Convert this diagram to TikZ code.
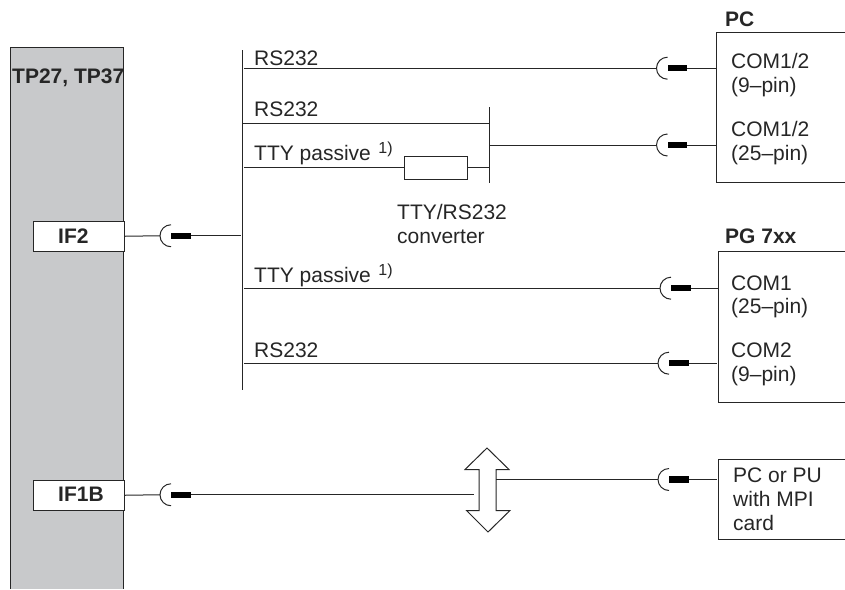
\documentclass[tikz,border=0pt]{standalone}
\usepackage{fontspec}
\setmainfont{Liberation Sans}
\definecolor{ink}{HTML}{262626}
\definecolor{panel}{HTML}{C8C9CB}
\tikzset{
  lbl/.style={anchor=base west,inner sep=0pt,text=ink,font=\fontsize{21}{24}\selectfont},
  blbl/.style={lbl,font=\fontsize{21}{24}\selectfont\bfseries},
  bx/.style={draw=ink,line width=1pt,fill=white,inner sep=0pt,minimum width=91pt,minimum height=30.5pt,anchor=north west},
  plug/.style={fill=black,draw=none,inner sep=0pt,minimum width=19.5pt,minimum height=6.5pt,anchor=west},
  wire/.style={draw=ink,line width=1pt}
}
% name, x of arc left edge, y
\newcommand{\plugat}[3]{%
  \coordinate (#1-l) at (#2,#3);
  \node[plug] (#1) at (#2+11,#3) {};
  \draw[wire] (#2+11,#3-11) arc[start angle=90,end angle=270,radius=11pt];
}
\newcommand{\supone}{\hspace{7.5pt}\raisebox{6.5pt}{\fontsize{16}{18}\selectfont 1)}}
\begin{document}
\begin{tikzpicture}[x=1pt,y=-1pt]
\useasboundingbox (0,0) rectangle (845,589);
% panel
\fill[panel] (10.5,47) rectangle (123,589);
\draw[wire] (10.5,589) -- (10.5,47) -- (123,47) -- (123,589);
\node[blbl] (tp) at (12,83) {TP27, TP37};
% interface boxes
\node[bx] (if2) at (33,220.5) {};
\node[blbl] (if2t) at (58,243) {IF2};
\node[bx] (if1b) at (33,479.5) {};
\node[blbl] (if1bt) at (58,501.7) {IF1B};
% bus
\coordinate (bustop) at (242,50);
\coordinate (busbot) at (242,390);
\draw[wire] (bustop) -- (busbot);
\coordinate (bus-if) at (241,235.75);
% plugs
\plugat{p0}{160}{235.75}
\plugat{p1}{656.5}{68.2}
\plugat{p2}{656.5}{145}
\plugat{p3}{660}{288.2}
\plugat{p4}{658}{363.2}
\plugat{p5}{160}{494.75}
\plugat{p6}{658}{479.5}
% device boxes (open on the right)
\coordinate (pc-nw) at (716.7,32); \coordinate (pc-sw) at (716.7,182.5);
\draw[wire] (845,32) -- (pc-nw) -- (pc-sw) -- (845,182.5);
\coordinate (pg-nw) at (718,251); \coordinate (pg-sw) at (718,402);
\draw[wire] (845,251) -- (pg-nw) -- (pg-sw) -- (845,402);
\coordinate (mpi-nw) at (718,459); \coordinate (mpi-sw) at (718,539);
\draw[wire] (845,459) -- (mpi-nw) -- (mpi-sw) -- (845,539);
% IF2 link
\draw[wire] (if2.east) -- (p0-l);
\draw[wire] (p0.east) -- (bus-if);
% branches
\coordinate (b1) at (244,68.2);
\coordinate (b2) at (243,123.7);
\coordinate (b3) at (244,167.5);
\coordinate (b4) at (244,288.2);
\coordinate (b5) at (244,363.2);
\draw[wire] (b1) -- (p1-l);
\draw[wire] (p1.east) -- (716.7,68.2);
\draw[wire] (b4) -- (p3-l);
\draw[wire] (p3.east) -- (718,288.2);
\draw[wire] (b5) -- (p4-l);
\draw[wire] (p4.east) -- (717,363.2);
% converter
\node[draw=ink,line width=1pt,fill=white,inner sep=0pt,minimum width=62.7pt,minimum height=23pt] (conv) at (435.7,167.5) {};
\coordinate (ttop) at (489.5,107);
\coordinate (tbot) at (489.5,183);
\draw[wire] (ttop) -- (tbot);
\coordinate (t2) at (489.5,123.7);
\coordinate (t3) at (489.5,167.5);
\coordinate (t4) at (489.5,145);
\draw[wire] (b2) -- (t2);
\draw[wire] (b3) -- (conv.west);
\draw[wire] (conv.east) -- (t3);
\draw[wire] (t4) -- (p2-l);
\draw[wire] (p2.east) -- (716.7,145);
% double arrow
\draw[wire,line join=miter,fill=white] (487,448) -- (509,469.5) -- (496,469.5) -- (496,510.5) -- (510,510.5)
  -- (488,532) -- (466.5,510.5) -- (479,510.5) -- (479,469.5) -- (465,469.5) -- cycle;
\coordinate (arrowL) at (474,494.75);
\coordinate (arrowR) at (496,479.5);
\draw[wire] (if1b.east) -- (p5-l);
\draw[wire] (p5.east) -- (arrowL);
\draw[wire] (arrowR) -- (p6-l);
\draw[wire] (p6.east) -- (717,479.5);
% labels
\node[lbl] at (254,65) {RS232};
\node[lbl] at (254,116.7) {RS232};
\node[lbl] at (254,160) {TTY passive\supone};
\node[lbl] at (397,219) {TTY/RS232};
\node[lbl] at (397,243) {converter};
\node[lbl] at (254,282.3) {TTY passive\supone};
\node[lbl] at (254,357.5) {RS232};
\node[blbl] at (725,26.7) {PC};
\node[lbl] at (731,68) {COM1/2};
\node[lbl] at (731,92.7) {(9–pin)};
\node[lbl] at (731,136) {COM1/2};
\node[lbl] at (731,160) {(25–pin)};
\node[blbl] at (725,243) {PG 7xx};
\node[lbl] at (731,290) {COM1};
\node[lbl] at (731,313.5) {(25–pin)};
\node[lbl] at (731,357) {COM2};
\node[lbl] at (731,381) {(9–pin)};
\node[lbl] at (733,482) {PC or PU};
\node[lbl] at (733,506) {with MPI};
\node[lbl] at (733,530) {card};
\end{tikzpicture}
\end{document}
